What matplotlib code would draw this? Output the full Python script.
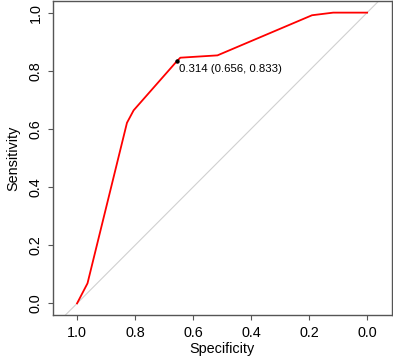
import matplotlib
matplotlib.use("Agg")
import matplotlib.pyplot as plt

specificity = [1.0, 0.964, 0.828, 0.805, 0.656, 0.644, 0.516, 0.190, 0.117, 0.0]
sensitivity = [0.0, 0.069, 0.621, 0.664, 0.833, 0.845, 0.853, 0.991, 1.0, 1.0]
best_threshold = 0.314
best_spec = 0.656
best_sens = 0.833
tick_values = [1.0, 0.8, 0.6, 0.4, 0.2, 0.0]
tick_labels = ["1.0", "0.8", "0.6", "0.4", "0.2", "0.0"]

plt.rcParams['font.family'] = ['Liberation Sans', 'DejaVu Sans']

fig = plt.figure(figsize=(3.93, 3.59), dpi=100)
ax = fig.add_axes([52.7/393, 1 - 315/359, (391.5-52.7)/393, (315-1)/359])

ax.set_xlim(1.084, -0.084)
ax.set_ylim(-0.04, 1.04)

ax.axline((1, 0), (0, 1), color='#d0d0d0', lw=0.8, zorder=1)
ax.plot(specificity, sensitivity, color='#ff0000', lw=1.3, zorder=2)
ax.plot([best_spec], [best_sens], 'o', color='black', ms=2.2, zorder=3)
ax.annotate(f"{best_threshold:.3f} ({best_spec:.3f}, {best_sens:.3f})",
            xy=(best_spec, best_sens), xytext=(1.5, -2), textcoords='offset points',
            ha='left', va='top', fontsize=8.2, color='black')

ax.set_xticks(tick_values)
ax.set_xticklabels(tick_labels)
ax.set_yticks(tick_values)
ax.set_yticklabels(tick_labels, rotation=90, va='center')

for s in ax.spines.values():
    s.set_color('#555555')
    s.set_linewidth(1.0)
ax.tick_params(axis='both', length=3.6, width=0.8, color='#555555',
               labelsize=10.4)
ax.tick_params(axis='x', pad=4.0)
ax.tick_params(axis='y', pad=3.5)
ax.set_xlabel("Specificity", fontsize=10.4, labelpad=2)
ax.set_ylabel("Sensitivity", fontsize=10.4, labelpad=6)

fig.savefig("out.png", dpi=100)
